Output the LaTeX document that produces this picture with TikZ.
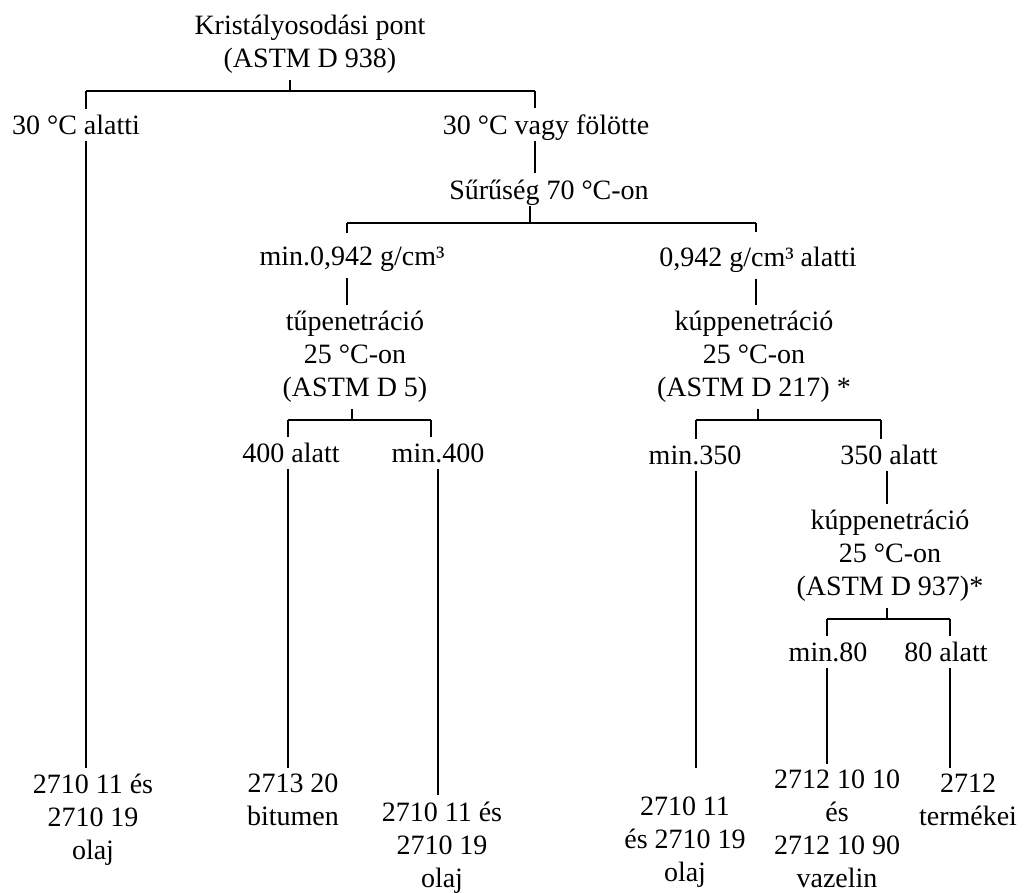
\documentclass[tikz,border=0pt]{standalone}
\usepackage{fontspec}
\setmainfont{Liberation Serif}
\tikzset{
	txt/.style={font=\fontsize{14}{16.5}\selectfont, inner sep=3pt, align=center},
	ln/.style={line width=0.9pt}
}
\begin{document}
\begin{tikzpicture}[x=0.5pt, y=-0.5pt]
					\useasboundingbox (0,0) rectangle (1024,893);
					
					\node[txt] (root) at (310,44) {Kristályosodási pont\\(ASTM D 938)};
					\node[txt] (lo) at (76,125) {30 °C alatti};
					\node[txt] (hi) at (546,127.5) {30 °C vagy fölötte};
					\node[txt] (dens) at (549,192.5) {Sűrűség 70 °C-on};
					\node[txt] (dhi) at (352,259.5) {min.0,942 g/cm³};
					\node[txt] (dlo) at (758,259.5) {0,942 g/cm³ alatti};
					\node[txt] (tu) at (355,357) {tűpenetráció\\25 °C-on\\(ASTM D 5)};
					\node[txt] (kup) at (754,357) {kúppenetráció\\25 °C-on\\(ASTM D 217) *};
					\node[txt] (tlo) at (291,453) {400 alatt};
					\node[txt] (thi) at (438,453) {min.400};
					\node[txt] (klo) at (695,455) {min.350};
					\node[txt] (khi) at (889,455) {350 alatt};
					\node[txt] (kupb) at (890,556) {kúppenetráció\\25 °C-on\\(ASTM D 937)*};
					\node[txt] (vlo) at (828,652) {min.80};
					\node[txt] (vhi) at (946,652) {80 alatt};
					
					% leaves
					\node[txt] (c1) at (93,820) {2710 11 és\\2710 19\\olaj};
					\node[txt] (c2) at (293,800) {2713 20\\bitumen};
					\node[txt] (c3) at (442,847.5) {2710 11 és\\2710 19\\olaj};
					\node[txt] (c4) at (685,842) {2710 11\\és 2710 19\\olaj};
					\node[txt] (c5) at (837,829) {2712 10 10\\és\\2712 10 90\\vazelin};
					\node[txt] (c6) at (968,800) {2712\\termékei};
					
					\coordinate (j1) at (290,91);
					\coordinate (j1a) at (86,91);
					\coordinate (j1b) at (535,91);
					\coordinate (j2) at (530,223);
					\coordinate (j2a) at (347,223);
					\coordinate (j2b) at (756,223);
					\coordinate (j3) at (352,420);
					\coordinate (j3a) at (288,420);
					\coordinate (j3b) at (431,420);
					\coordinate (j4) at (758,420);
					\coordinate (j4a) at (696,420);
					\coordinate (j4b) at (881,420);
					\coordinate (j5) at (887,619);
					\coordinate (j5a) at (827,619);
					\coordinate (j5b) at (950,619);
					
					\draw[ln] (root.south -| j1) -- (j1);
					\draw[ln] (j1a) -- (j1b);
					\draw[ln] (j1a) -- (lo.north -| j1a);
					\draw[ln] (lo.south -| j1a) -- (c1.north -| j1a);
					\draw[ln] (j1b) -- (hi.north -| j1b);
					\draw[ln, shorten <=-3pt] (hi.south -| j1b) -- (dens.north -| j1b);
					\draw[ln, shorten <=-3pt] (dens.south -| j2) -- (j2);
					\draw[ln] (j2a) -- (j2b);
					
					\draw[ln, shorten >=4pt] (j2a) -- (dhi.north -| j2a);
					\draw[ln] (dhi.south -| j2a) -- (tu.north -| j2a);
					\draw[ln] (tu.south -| j3) -- (j3);
					\draw[ln] (j3a) -- (j3b);
					\draw[ln] (j3a) -- (tlo.north -| j3a);
					\draw[ln] (j3b) -- (thi.north -| j3b);
					\draw[ln] (tlo.south -| j3a) -- (c2.north -| j3a);
					\draw[ln] (thi.south) -- (thi.south |- c3.north);
					
					\draw[ln, shorten >=4pt] (j2b) -- (dlo.north -| j2b);
					\draw[ln] (dlo.south -| j2b) -- (kup.north -| j2b);
					\draw[ln] (kup.south -| j4) -- (j4);
					\draw[ln] (j4a) -- (j4b);
					\draw[ln] (j4a) -- (klo.north -| j4a);
					\draw[ln] (j4b) -- (khi.north -| j4b);
					\draw[ln] (klo.south -| j4a) -- (j4a |- c6.north);
					\draw[ln] (khi.south -| j5) -- (kupb.north -| j5);
					\draw[ln] (kupb.south -| j5) -- (j5);
					\draw[ln] (j5a) -- (j5b);
					\draw[ln] (j5a) -- (vlo.north -| j5a);
					\draw[ln] (j5b) -- (vhi.north -| j5b);
					\draw[ln] (vlo.south -| j5a) -- (c5.north -| j5a);
					\draw[ln] (vhi.south -| j5b) -- (c6.north -| j5b);
					
				\end{tikzpicture}
\end{document}
